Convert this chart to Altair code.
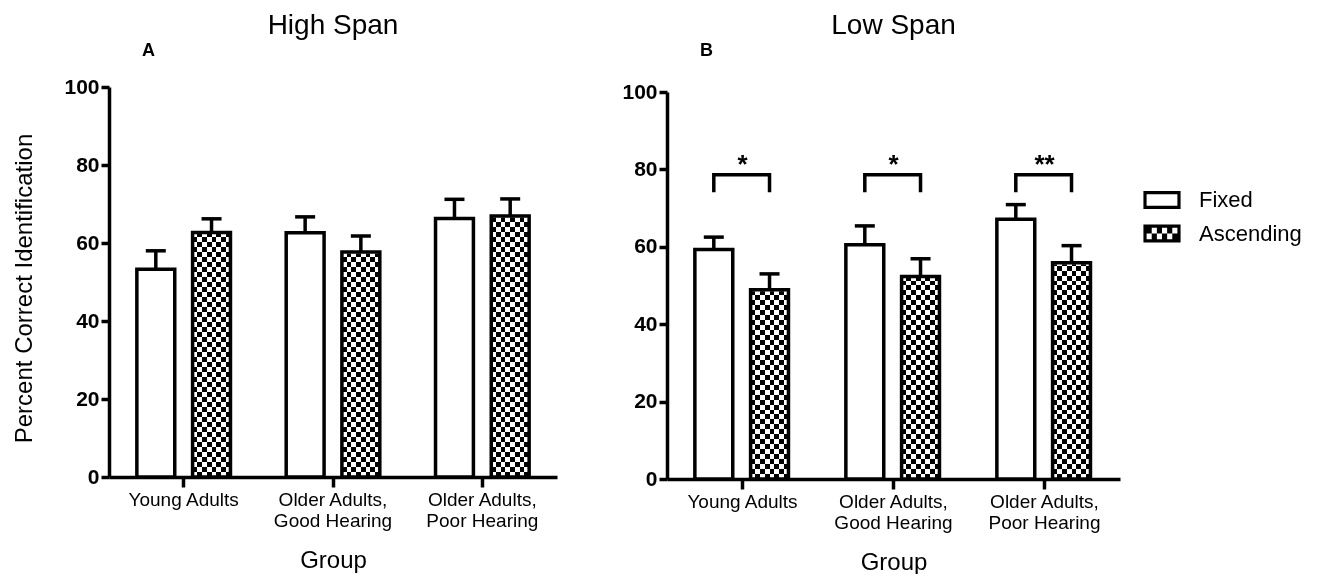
import altair as alt
import pandas as pd

# ---------------- data ----------------
groups = ["Young Adults", "Older Adults, Good Hearing", "Older Adults, Poor Hearing"]
series = ["Fixed", "Ascending"]

high_fixed = [53.3, 62.6, 66.3]
high_fixed_err = [4.7, 4.1, 4.9]
high_asc = [62.7, 57.7, 66.9]
high_asc_err = [3.5, 4.1, 4.4]

low_fixed = [59.3, 60.5, 67.1]
low_fixed_err = [3.2, 4.9, 3.8]
low_asc = [48.9, 52.3, 55.9]
low_asc_err = [4.1, 4.6, 4.4]

bracket_top = [78.6, 78.6, 78.6]
bracket_leg = [74.1, 74.1, 74.1]
stars = ["*", "*", "**"]
star_y = [79.0, 79.0, 79.0]

y_ticks = [0, 20, 40, 60, 80, 100]

FONT = "'Liberation Sans', Arial, Helvetica, sans-serif"


def bars_df(fixed, fixed_err, asc, asc_err):
    rows = []
    for s, vals, errs in (("Fixed", fixed, fixed_err), ("Ascending", asc, asc_err)):
        for g, v, e in zip(groups, vals, errs):
            rows.append({"Group": g, "Series": s, "Value": v, "Top": round(v + e, 2)})
    return pd.DataFrame(rows)


def stripe_gradient(n, along_y):
    stops = []
    for i in range(n):
        col = "#000000" if i % 2 == 0 else "#ffffff"
        stops.append(alt.GradientStop(offset=i / n, color=col))
        stops.append(alt.GradientStop(offset=(i + 1) / n, color=col))
    if along_y:
        return alt.LinearGradient(gradient="linear", stops=stops, x1=0, y1=0, x2=0, y2=1)
    return alt.LinearGradient(gradient="linear", stops=stops, x1=0, y1=0, x2=1, y2=0)


def frame_path(cells):
    # unit box: x in [-1, 1], y in [-0.486, 0.486]; frame thickness 0.171
    p = "M-1,-0.486H1V0.486H-1Z M-0.829,-0.314V0.314H0.829V-0.314Z"
    if cells:
        cw = 1.658 / 6
        ch = 0.314
        for r in range(2):
            for c in range(6):
                if (r + c) % 2 == 0:
                    x0 = -0.829 + c * cw
                    y0 = -0.314 + r * ch
                    p += " M%.3f,%.3fH%.3fV%.3fH%.3fZ" % (x0, y0, x0 + cw, y0 + ch, x0)
    return p


label_expr = "split(replace(datum.label, ', ', ',|'), '|')"


def panel(df, title, letter, letter_y, width, height, y_range, y_title, right_side):
    xscale = alt.Scale(domain=groups, paddingInner=0, paddingOuter=0)
    xaxis = alt.Axis(title="Group", labelExpr=label_expr, labelAngle=0)
    oscale = alt.Scale(domain=series, paddingInner=0.32, paddingOuter=0.5)
    yscale = alt.Scale(domain=[0, 100], nice=False, zero=True, range=y_range)
    if y_title:
        yaxis = alt.Axis(values=y_ticks, title=y_title, titleY=201)
    else:
        yaxis = alt.Axis(values=y_ticks, title=None)

    def X():
        return alt.X("Group:N", scale=xscale, axis=xaxis, sort=groups)

    def XO():
        return alt.XOffset("Series:N", scale=oscale, sort=series)

    def Y(field):
        return alt.Y(field, scale=yscale, axis=yaxis)

    base = alt.Chart(df)
    asc = base.transform_filter(alt.datum.Series == "Ascending")

    l_h = asc.mark_bar(fill=stripe_gradient(78, True), strokeWidth=0).encode(
        x=X(), xOffset=XO(), y=alt.YDatum(100, scale=yscale, axis=yaxis), y2=alt.Y2Datum(0)
    )
    l_v = asc.mark_bar(fill=stripe_gradient(8, False), strokeWidth=0, blend="difference").encode(
        x=X(), xOffset=XO(), y=alt.YDatum(100, scale=yscale, axis=yaxis), y2=alt.Y2Datum(0)
    )
    l_cover = asc.mark_bar(fill="white", stroke="white", strokeWidth=3).encode(
        x=X(), xOffset=XO(), y=Y("Value:Q"), y2=alt.Y2Datum(100)
    )
    l_out = base.mark_bar(stroke="black", strokeWidth=3.5).encode(
        x=X(), xOffset=XO(), y=Y("Value:Q"),
        fill=alt.condition(alt.datum.Series == "Fixed", alt.value("white"), alt.value("transparent")),
    )
    l_err = base.mark_rule(color="black", strokeWidth=3.5).encode(
        x=X(), xOffset=XO(), y=Y("Value:Q"), y2="Top:Q"
    )
    l_cap = base.mark_tick(color="black", size=20, thickness=3.5, opacity=1).encode(
        x=X(), xOffset=XO(), y=Y("Top:Q")
    )
    l_letter = alt.Chart(pd.DataFrame({"Letter": [letter]})).mark_text(
        font=FONT, fontSize=18, fontWeight="bold", align="left", baseline="alphabetic", color="black"
    ).encode(text="Letter:N", x=alt.value(33), y=alt.value(letter_y))

    layers = [l_h, l_v, l_cover, l_out, l_err, l_cap]

    if right_side:
        br_rows = []
        for g, t, lg in zip(groups, bracket_top, bracket_leg):
            br_rows += [
                {"Group": g, "Series": "Fixed", "Y": lg, "Idx": 0},
                {"Group": g, "Series": "Fixed", "Y": t, "Idx": 1},
                {"Group": g, "Series": "Ascending", "Y": t, "Idx": 2},
                {"Group": g, "Series": "Ascending", "Y": lg, "Idx": 3},
            ]
        brdf = pd.DataFrame(br_rows)
        stdf = pd.DataFrame({"Group": groups, "Star": stars, "StarY": star_y})
        l_br = alt.Chart(brdf).mark_line(color="black", strokeWidth=3.5, strokeJoin="miter").encode(
            x=X(), xOffset=XO(), y=Y("Y:Q"), detail="Group:N", order="Idx:Q"
        )
        l_star = alt.Chart(stdf).mark_text(
            font=FONT, fontSize=26, fontWeight="bold", baseline="alphabetic", color="black"
        ).encode(x=X(), y=Y("StarY:Q"), text="Star:N")
        l_leg = base.mark_point(size=0, filled=True, fill="black", strokeWidth=0, opacity=1).encode(
            x=X(), xOffset=XO(), y=Y("Value:Q"),
            shape=alt.Shape(
                "Series:N",
                sort=series,
                scale=alt.Scale(domain=series, range=[frame_path(False), frame_path(True)]),
                legend=alt.Legend(
                    title=None, orient="none", legendX=1034, legendY=94,
                    symbolSize=1380, symbolStrokeWidth=0, symbolFillColor="black",
                    labelFont=FONT, labelFontSize=22, labelColor="black",
                    labelOffset=18, rowPadding=3.5, padding=0,
                ),
            ),
        )
        layers += [l_br, l_star, l_leg]

    layers.append(l_letter)

    return alt.layer(*layers).properties(
        width=width,
        height=height,
        title=alt.Title(
            title, font=FONT, fontSize=28, fontWeight="normal", color="black",
            anchor="middle", frame="group", offset=2,
        ),
    )


left = panel(bars_df(high_fixed, high_fixed_err, high_asc, high_asc_err),
             "High Span", "A", -31, 448, 390, [390, 0], "Percent Correct Identification", False)
right = panel(bars_df(low_fixed, low_fixed_err, low_asc, low_asc_err),
              "Low Span", "B", -31, 453, 392, [392, 5], None, True)

chart = (
    alt.hconcat(left, right, spacing=64)
    .properties(padding={"left": 4, "top": 4, "right": 0, "bottom": 0})
    .configure_view(stroke=None)
    .configure_axis(
        domainColor="black", domainWidth=3.5, tickColor="black", tickWidth=3.5,
        labelColor="black", titleColor="black", labelFont=FONT, titleFont=FONT,
        titleFontWeight="normal", grid=False,
    )
    .configure_axisY(labelFontSize=21, labelFontWeight="bold", tickSize=8, labelPadding=2,
                     titleFontSize=24, titlePadding=27)
    .configure_axisX(labelFontSize=19, tickSize=10, labelPadding=3, labelLineHeight=21,
                     titleFontSize=24, titlePadding=18)
)

chart.save("out.html", embed_options={"renderer": "svg", "actions": False})
